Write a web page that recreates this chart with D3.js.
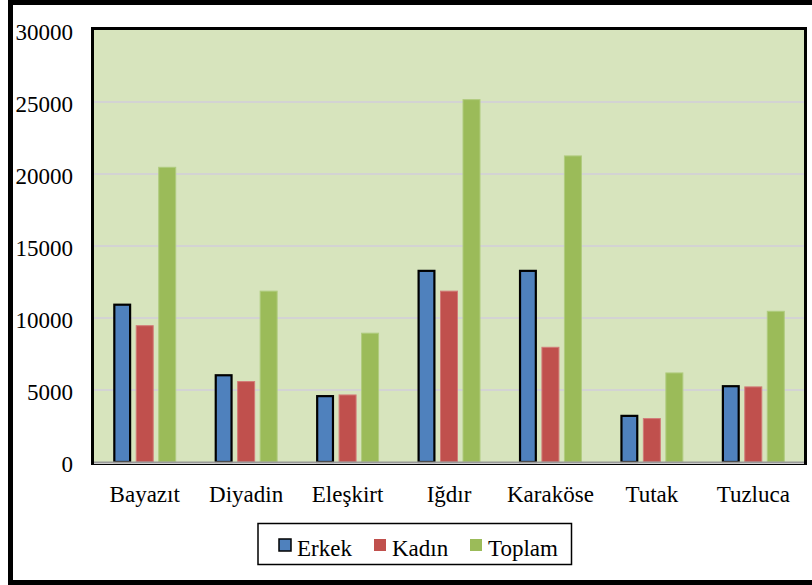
<!DOCTYPE html>
<html><head><meta charset="utf-8">
<script src="https://cdn.jsdelivr.net/npm/d3@7"></script>
<style>html,body{margin:0;padding:0;background:#fff;}svg{display:block;}</style>
</head><body>
<svg id="chart" width="812" height="585"></svg>
<script>
const categories = ["Bayazıt","Diyadin","Eleşkirt","Iğdır","Karaköse","Tutak","Tuzluca"];
const seriesNames = ["Erkek","Kadın","Toplam"];
const erkek  = [11000, 6100, 4650, 13350, 13350, 3280, 5340];
const kadin  = [9500, 5620, 4690, 11900, 8000, 3050, 5250];
const toplam = [20500, 11900, 8980, 25200, 21290, 6220, 10500];
const yTicks = [0, 5000, 10000, 15000, 20000, 25000, 30000];
const colors = ["#4f81bd","#c0504d","#9bbb59"];
const strokes = ["#000000","#d27b78","#b0cc7f"];
const strokeW = [2.2, 1, 1];
const values = [erkek, kadin, toplam];

const svg = d3.select("#chart");
const font = "'Liberation Serif','Times New Roman',serif";

// outer frame
svg.append("rect").attr("x",10.5).attr("y",2.5).attr("width",830).attr("height",580)
  .attr("fill","none").attr("stroke","#000").attr("stroke-width",5);

const plot = {l:94, r:804, t:30, b:462};
const y = d3.scaleLinear().domain([0,30000]).range([plot.b, plot.t]);
const x0 = d3.scaleBand().domain(categories).range([plot.l, plot.r]).padding(0);
const x1 = d3.scaleBand().domain(seriesNames).range([-31.5, 31.5]).paddingInner(0.2).paddingOuter(0);

svg.append("rect").attr("x",plot.l).attr("y",plot.t).attr("width",plot.r-plot.l).attr("height",plot.b-plot.t)
  .attr("fill","#d7e4bd");

// gridlines
svg.append("g").selectAll("line").data(yTicks.filter(t=>t>0 && t<30000)).join("line")
  .attr("x1",plot.l).attr("x2",plot.r).attr("y1",d=>y(d)).attr("y2",d=>y(d))
  .attr("stroke","#d3d3d3").attr("stroke-width",2);

// bars
const groups = svg.append("g").selectAll("g").data(categories).join("g")
  .attr("transform",c=>`translate(${x0(c)+x0.bandwidth()/2},0)`);
groups.selectAll("rect").data((c,i)=>seriesNames.map((s,j)=>({s,j,v:values[j][i]}))).join("rect")
  .attr("x",d=>x1(d.s)+strokeW[d.j]/2).attr("width",d=>x1.bandwidth()-strokeW[d.j])
  .attr("y",d=>y(d.v)+strokeW[d.j]/2).attr("height",d=>y(0)-y(d.v)-strokeW[d.j]/2)
  .attr("fill",d=>colors[d.j]).attr("stroke",d=>strokes[d.j]).attr("stroke-width",d=>strokeW[d.j]);

// x axis line
svg.append("line").attr("x1",plot.l).attr("x2",plot.r).attr("y1",plot.b+0.5).attr("y2",plot.b+0.5)
  .attr("stroke","#9a9a9a").attr("stroke-width",2);
// plot border
svg.append("path").attr("d",`M${plot.l-1.5},${plot.b+2}V${plot.t-1.5}H${plot.r+1.5}V${plot.b+2}`)
  .attr("fill","none").attr("stroke","#000").attr("stroke-width",3);
svg.append("line").attr("x1",plot.l-3).attr("x2",plot.r+3).attr("y1",plot.b+2.5).attr("y2",plot.b+2.5)
  .attr("stroke","#000").attr("stroke-width",1.2);

// y axis labels
const yAxis = d3.axisLeft(y).tickValues(yTicks).tickSize(0).tickPadding(0).tickFormat(d3.format("d"));
const ya = svg.append("g").attr("transform","translate(73,0)").call(yAxis);
ya.select(".domain").remove();
ya.selectAll("text").attr("font-family",font).attr("font-size",23).attr("fill","#000")
  .attr("dy",null).attr("y",9).attr("text-anchor","end");

// x axis labels
const xAxis = d3.axisBottom(x0).tickSize(0).tickPadding(0);
const xa = svg.append("g").attr("transform","translate(0,0)").call(xAxis);
xa.select(".domain").remove();
xa.selectAll("text").attr("font-family",font).attr("font-size",23).attr("fill","#000")
  .attr("dy",null).attr("y",502);

// legend
const lg = svg.append("g");
lg.append("rect").attr("x",258).attr("y",523.5).attr("width",313.5).attr("height",41)
  .attr("fill","#fff").attr("stroke","#000").attr("stroke-width",1.5);
const legX = [279, 374, 470];
seriesNames.forEach((s,j)=>{
  lg.append("rect").attr("x",legX[j]).attr("y",539).attr("width",12).attr("height",12)
    .attr("fill",colors[j]).attr("stroke",j===0?"#000":"none").attr("stroke-width",1.5);
  lg.append("text").attr("x",legX[j]+18).attr("y",556).text(s)
    .attr("font-family",font).attr("font-size",23).attr("fill","#000");
});
</script>
</body></html>
